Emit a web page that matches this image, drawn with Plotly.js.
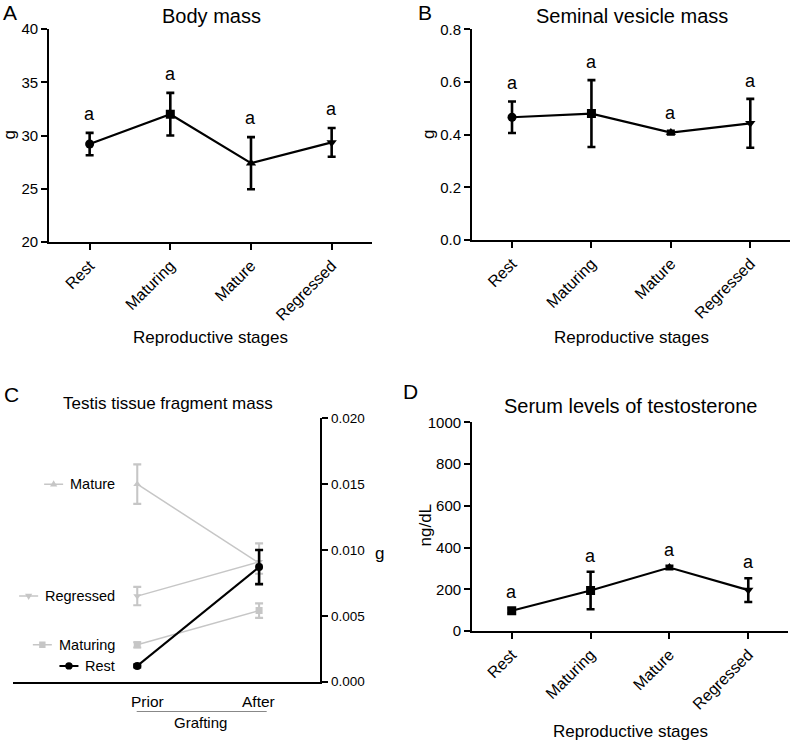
<!DOCTYPE html>
<html><head><meta charset="utf-8">
<script src="https://cdn.plot.ly/plotly-3.0.1.min.js"></script>
<style>html,body{margin:0;padding:0;background:#fff}</style>
</head><body><div id="chart" style="width:793px;height:741px"></div>
<script>
// ---- data ----
const stages = ['Rest', 'Maturing', 'Mature', 'Regressed'];
const bodyMass = [29.2, 32.0, 27.4, 29.35];
const bodyMassErr = [1.05, 2.0, 2.45, 1.35];
const vesicleMass = [0.466, 0.480, 0.408, 0.443];
const vesicleErr = [0.060, 0.127, 0.007, 0.093];
const testosterone = [97, 194, 304, 196];
const testosteroneErr = [12, 90, 8, 57];
const sigLetters = ['a', 'a', 'a', 'a'];

const graftTimes = ['Prior', 'After'];
const fragGroups = ['Mature', 'Regressed', 'Maturing', 'Rest'];
const fragMature = [0.0150, 0.0090];
const fragMatureErr = [0.0015, 0.0015];
const fragRegressed = [0.0065, 0.0091];
const fragRegressedErr = [0.0007, 0.0009];
const fragMaturing = [0.0028, 0.0054];
const fragMaturingErr = [0.0002, 0.00055];
const fragRest = [0.0012, 0.0087];
const fragRestErr = [0.0001, 0.0013];

// ---- helpers ----
const W = 793, H = 741;
const px = x => x / W;
const py = y => 1 - y / H;
const FONT = 'Liberation Sans, Arial, Helvetica, sans-serif';
const GRAY = '#c6c6c6';

function stageTrace(y, err, symbols, ax) {
  return {
    x: stages, y: y, xaxis: 'x' + ax, yaxis: 'y' + ax,
    type: 'scatter', mode: 'lines+markers',
    line: {color: '#000', width: 2.2},
    marker: {color: '#000', size: 9, symbol: symbols},
    error_y: {type: 'data', array: err, visible: true, color: '#000', thickness: 2.6, width: 4},
    showlegend: false, hoverinfo: 'skip'
  };
}
function fragTrace(y, err, color, symbol, size, lw) {
  return {
    x: graftTimes, y: y, xaxis: 'x3', yaxis: 'y3',
    type: 'scatter', mode: 'lines+markers',
    line: {color: color, width: lw},
    marker: {color: color, size: size, symbol: symbol},
    error_y: {type: 'data', array: err, visible: true, color: color, thickness: lw + 0.6, width: 4},
    showlegend: false, hoverinfo: 'skip'
  };
}

const traces = [
  stageTrace(bodyMass, bodyMassErr, ['circle', 'square', 'triangle-up', 'triangle-down'], ''),
  stageTrace(vesicleMass, vesicleErr, ['circle', 'square', 'triangle-up', 'triangle-down'], '2'),
  stageTrace(testosterone, testosteroneErr, ['square', 'square', 'triangle-up', 'triangle-down'], '4'),
  fragTrace(fragMature, fragMatureErr, GRAY, 'triangle-up', 7, 1.5),
  fragTrace(fragRegressed, fragRegressedErr, GRAY, 'triangle-down', 7, 1.5),
  fragTrace(fragMaturing, fragMaturingErr, GRAY, 'square', 7, 1.5),
  fragTrace(fragRest, fragRestErr, '#000', 'circle', 8, 2)
];

const axBase = {
  showgrid: false, zeroline: false, showline: true, linecolor: '#000', linewidth: 2.2,
  ticks: 'outside', ticklen: 6, tickwidth: 2, tickcolor: '#000',
  tickfont: {family: FONT, size: 15, color: '#000'}, fixedrange: true
};
function catX(domain, anchor) {
  return Object.assign({}, axBase, {
    domain: domain, anchor: anchor, type: 'category', range: [-0.5, 3.5],
    tickangle: -45, tickfont: {family: FONT, size: 16, color: '#000'}
  });
}
function valY(domain, anchor, range, dtick, fmt) {
  return Object.assign({}, axBase, {
    domain: domain, anchor: anchor, range: range, dtick: dtick, tickformat: fmt
  });
}

const annotations = [];
const shapes = [];
function ann(text, x, y, size, opts) {
  annotations.push(Object.assign({
    text: text, x: x, y: y, xref: 'paper', yref: 'paper', showarrow: false,
    xanchor: 'center', yanchor: 'middle', font: {family: FONT, size: size, color: '#000'}
  }, opts || {}));
}
// panel letters
ann('A', px(10), py(12), 21);
ann('B', px(425), py(12), 21);
ann('C', px(11), py(394), 21);
ann('D', px(411), py(391), 21);
// titles
ann('Body mass', px(211), py(16), 20);
ann('Seminal vesicle mass', px(631.5), py(16), 20);
ann('Testis tissue fragment mass', px(167.5), py(403), 17);
ann('Serum levels of testosterone', px(630), py(405.5), 20);
// axis titles
ann('Reproductive stages', px(210.5), py(337), 17);
ann('Reproductive stages', px(631.5), py(337.5), 17);
ann('Reproductive stages', px(630), py(731), 17);
ann('g', px(8.5), py(135), 17, {textangle: -90});
ann('g', px(428), py(135), 17, {textangle: -90});
ann('ng/dL', px(425), py(525.5), 17, {textangle: -90});
ann('g', px(379), py(553), 17);
// significance letters
function sig(vals, errs, ax, shift) {
  vals.forEach((v, i) => ann(sigLetters[i], i, v + errs[i], 18,
    {xref: 'x' + ax, yref: 'y' + ax, yshift: shift}));
}
sig(bodyMass, bodyMassErr, '', 19);
sig(vesicleMass, vesicleErr, '2', 18);
sig(testosterone, testosteroneErr, '4', 16);
// panel C x labels
ann(graftTimes[0], 0, py(701.5), 15.5, {xref: 'x3', xshift: 10});
ann(graftTimes[1], 1, py(701.5), 15.5, {xref: 'x3', xshift: -1});
ann('Grafting', px(200), py(722), 15);
shapes.push({type: 'line', xref: 'paper', yref: 'paper', x0: px(136.7), x1: px(266.7),
  y0: py(711.5), y1: py(711.5), line: {color: '#888', width: 1}});

// panel C inline legend (labels beside the "Prior" points)
const legendVals = {Mature: fragMature[0], Regressed: fragRegressed[0], Maturing: fragMaturing[0], Rest: fragRest[0]};
const meas = document.createElement('canvas').getContext('2d');
meas.font = '14.5px "Liberation Sans"';
fragGroups.forEach(g => {
  const v = legendVals[g];
  const black = g === 'Rest';
  const col = black ? '#000' : GRAY;
  ann(g, 0, v, 14.5, {xref: 'x3', yref: 'y3', xanchor: 'right', xshift: -20});
  const w = meas.measureText(g).width;
  const right = -20 - w - 9, left = right - 19, mid = (left + right) / 2;
  const base = {xref: 'x3', yref: 'y3', xsizemode: 'pixel', ysizemode: 'pixel', xanchor: 0, yanchor: v};
  shapes.push(Object.assign({type: 'line', x0: left, x1: right, y0: 0, y1: 0,
    line: {color: col, width: black ? 2 : 1.5}}, base));
  const mk = {fillcolor: col, line: {width: 0}};
  if (g === 'Rest') {
    shapes.push(Object.assign({type: 'circle', x0: mid - 3.7, x1: mid + 3.7, y0: -3.7, y1: 3.7}, base, mk));
  } else if (g === 'Maturing') {
    shapes.push(Object.assign({type: 'rect', x0: mid - 3.2, x1: mid + 3.2, y0: -3.2, y1: 3.2}, base, mk));
  } else if (g === 'Mature') {
    shapes.push(Object.assign({type: 'path',
      path: 'M' + (mid - 3.6) + ',-2.4 L' + (mid + 3.6) + ',-2.4 L' + mid + ',3.8 Z'}, base, mk));
  } else {
    shapes.push(Object.assign({type: 'path',
      path: 'M' + (mid - 3.6) + ',2.4 L' + (mid + 3.6) + ',2.4 L' + mid + ',-3.8 Z'}, base, mk));
  }
});

const layout = {
  width: W, height: H, margin: {l: 0, r: 0, t: 0, b: 0},
  paper_bgcolor: '#fff', plot_bgcolor: 'rgba(0,0,0,0)',
  font: {family: FONT, color: '#000'}, showlegend: false,
  xaxis: catX([px(49.3), px(372)], 'y'),
  yaxis: valY([py(242), py(29)], 'x', [20, 40], 5, 'd'),
  xaxis2: catX([px(472.3), px(790)], 'y2'),
  yaxis2: valY([py(240), py(29.3)], 'x2', [0, 0.8], 0.2, '.1f'),
  xaxis3: Object.assign({}, axBase, {
    domain: [px(13), px(320)], anchor: 'y3', type: 'category', range: [-1.02, 1.5],
    ticks: '', showticklabels: false
  }),
  yaxis3: Object.assign(valY([py(681.7), py(418.3)], 'x3', [0, 0.02], 0.005, '.3f'),
    {side: 'right', tickfont: {family: FONT, size: 13.5, color: '#000'}}),
  xaxis4: catX([px(472.3), px(787.7)], 'y4'),
  yaxis4: valY([py(631), py(422.3)], 'x4', [0, 1000], 200, 'd'),
  annotations: annotations,
  shapes: shapes
};

Plotly.newPlot('chart', traces, layout, {staticPlot: true, displayModeBar: false});
</script></body></html>
